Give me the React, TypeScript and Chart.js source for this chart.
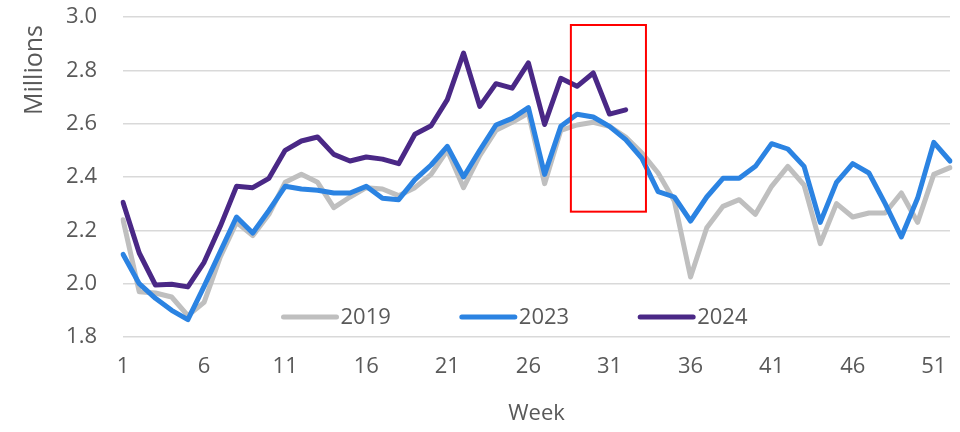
import React, { useEffect, useRef } from "react";
import { Chart, registerables } from "chart.js";

Chart.register(...registerables);

const weeks = [
  "1", "2", "3", "4", "5", "6", "7", "8", "9", "10",
  "11", "12", "13", "14", "15", "16", "17", "18", "19", "20",
  "21", "22", "23", "24", "25", "26", "27", "28", "29", "30",
  "31", "32", "33", "34", "35", "36", "37", "38", "39", "40",
  "41", "42", "43", "44", "45", "46", "47", "48", "49", "50",
  "51", "52",
];
const shownWeekTicks = ["1", "6", "11", "16", "21", "26", "31", "36", "41", "46", "51"];

const series2019 = [
  2.24, 1.97, 1.965, 1.95, 1.88, 1.93, 2.1, 2.23, 2.18, 2.26,
  2.38, 2.41, 2.38, 2.285, 2.325, 2.36, 2.355, 2.33, 2.36, 2.41,
  2.5, 2.36, 2.48, 2.575, 2.605, 2.64, 2.375, 2.575, 2.595, 2.605,
  2.59, 2.55, 2.49, 2.415, 2.31, 2.025, 2.21, 2.29, 2.315, 2.26,
  2.365, 2.44, 2.37, 2.15, 2.3, 2.25, 2.265, 2.265, 2.34, 2.23,
  2.41, 2.435,
];
const series2023 = [
  2.11, 2.0, 1.945, 1.9, 1.865, 1.99, 2.12, 2.25, 2.19, 2.275,
  2.365, 2.355, 2.35, 2.34, 2.34, 2.365, 2.32, 2.315, 2.39, 2.445,
  2.515, 2.4, 2.5, 2.595, 2.62, 2.66, 2.41, 2.59, 2.635, 2.625,
  2.59, 2.54, 2.47, 2.345, 2.325, 2.235, 2.325, 2.395, 2.395, 2.44,
  2.525, 2.505, 2.44, 2.23, 2.38, 2.45, 2.415, 2.3, 2.175, 2.32,
  2.53, 2.46,
];
const series2024 = [
  2.305, 2.115, 1.995, 1.998, 1.988, 2.08, 2.215, 2.365, 2.36, 2.395,
  2.5, 2.535, 2.55, 2.485, 2.46, 2.475, 2.467, 2.45, 2.56, 2.592,
  2.69, 2.865, 2.665, 2.75, 2.733, 2.828, 2.597, 2.77, 2.74, 2.79,
  2.636, 2.652,
];

const seriesNames = ["2019", "2023", "2024"];
const seriesColors = ["#bfbfbf", "#2b83e2", "#4a2886"];

// highlight box (in data units: week range, value range)
const highlightWeeks = [28.62, 33.25];
const highlightValues = [2.27, 2.97];

const yMin = 1.8;
const yMax = 3.0;
const yStep = 0.2;

const yTitle = "Millions";
const xTitle = "Week";

const FONT = "'Open Sans', Inter, sans-serif";
const TEXT_COLOR = "#595959";

const highlightPlugin = {
  id: "highlightBox",
  afterDatasetsDraw(chart: any) {
    const x = chart.scales.x;
    const y = chart.scales.y;
    const x0 = x.getPixelForValue(highlightWeeks[0] - 1);
    const x1 = x.getPixelForValue(highlightWeeks[1] - 1);
    const y0 = y.getPixelForValue(highlightValues[1]);
    const y1 = y.getPixelForValue(highlightValues[0]);
    const ctx = chart.ctx;
    ctx.save();
    ctx.strokeStyle = "#ff0000";
    ctx.lineWidth = 2;
    ctx.strokeRect(x0, y0, x1 - x0, y1 - y0);
    ctx.restore();
  },
};

const yTitlePlugin = {
  id: "yTitleTop",
  afterDraw(chart: any) {
    const ctx = chart.ctx;
    const area = chart.chartArea;
    ctx.save();
    ctx.font = `25px ${FONT}`;
    ctx.fillStyle = TEXT_COLOR;
    ctx.translate(35, area.top + 8);
    ctx.rotate(-Math.PI / 2);
    ctx.textAlign = "right";
    ctx.textBaseline = "middle";
    ctx.fillText(yTitle, 0, 0);
    ctx.restore();
  },
};

const legendPlugin = {
  id: "inlineLegend",
  afterDatasetsDraw(chart: any) {
    const ctx = chart.ctx;
    const area = chart.chartArea;
    const ds = chart.data.datasets;
    ctx.save();
    ctx.font = `22px ${FONT}`;
    const lineLen = 57;
    const gap = 2;
    const itemGap = 69;
    const widths = ds.map((d: any) => lineLen + gap + ctx.measureText(d.label).width);
    const total = widths.reduce((a: number, b: number) => a + b, 0) + itemGap * (ds.length - 1);
    let xPos = (area.left + area.right) / 2 - 22 - total / 2;
    const yPos = area.bottom - 20;
    ds.forEach((d: any, i: number) => {
      ctx.strokeStyle = d.borderColor;
      ctx.lineWidth = 5;
      ctx.lineCap = "round";
      ctx.beginPath();
      ctx.moveTo(xPos + 2, yPos);
      ctx.lineTo(xPos + lineLen - 2, yPos);
      ctx.stroke();
      ctx.fillStyle = TEXT_COLOR;
      ctx.textBaseline = "middle";
      ctx.textAlign = "left";
      ctx.fillText(d.label, xPos + lineLen + gap, yPos + 1);
      xPos += widths[i] + itemGap;
    });
    ctx.restore();
  },
};

export default function App() {
  const canvasRef = useRef<HTMLCanvasElement | null>(null);

  useEffect(() => {
    document.body.style.margin = "0";
    const canvas = canvasRef.current;
    if (!canvas) return;
    const allSeries = [series2019, series2023, series2024];
    const chart = new Chart(canvas, {
      type: "line",
      data: {
        labels: weeks,
        datasets: allSeries.map((s, i) => ({
          label: seriesNames[i],
          data: s,
          borderColor: seriesColors[i],
          backgroundColor: seriesColors[i],
          borderWidth: 5,
          pointRadius: 0,
          pointHoverRadius: 0,
          tension: 0,
          borderJoinStyle: "round" as const,
          borderCapStyle: "round" as const,
          order: 3 - i,
        })),
      },
      options: {
        animation: false,
        responsive: true,
        maintainAspectRatio: false,
        layout: { padding: { left: 0, right: 10, top: 17, bottom: 0 } },
        plugins: {
          legend: { display: false },
          tooltip: { enabled: false },
        },
        scales: {
          x: {
            type: "category",
            offset: false,
            grid: { display: false, drawTicks: true, tickLength: 17, tickColor: "rgba(0,0,0,0)" },
            border: { display: false },
            ticks: {
              autoSkip: false,
              maxRotation: 0,
              minRotation: 0,
              padding: 0,
              color: TEXT_COLOR,
              font: { family: FONT, size: 22 },
              callback: function (this: any, value: any, index: number) {
                const lbl = weeks[index];
                return shownWeekTicks.includes(lbl) ? lbl : "";
              },
            },
            title: {
              display: true,
              text: xTitle,
              color: TEXT_COLOR,
              font: { family: FONT, size: 22 },
              padding: { top: 0, bottom: 5 },
            },
            afterFit(scale: any) {
              scale.height = 95;
            },
          },
          y: {
            min: yMin,
            max: yMax,
            grid: {
              color: "#d9d9d9",
              lineWidth: 1.5,
              drawTicks: true,
              tickLength: 26,
              tickColor: "rgba(0,0,0,0)",
            },
            border: { display: false },
            ticks: {
              stepSize: yStep,
              padding: 0,
              color: TEXT_COLOR,
              font: { family: FONT, size: 22 },
              callback: (v: any) => Number(v).toFixed(1),
            },
            title: { display: false },
            afterFit(scale: any) {
              scale.width = 123;
            },
          },
        },
      },
      plugins: [highlightPlugin, legendPlugin, yTitlePlugin],
    });
    return () => chart.destroy();
  }, []);

  return (
    <div style={{ width: 960, height: 432, position: "relative" }}>
      <canvas ref={canvasRef} />
    </div>
  );
}
